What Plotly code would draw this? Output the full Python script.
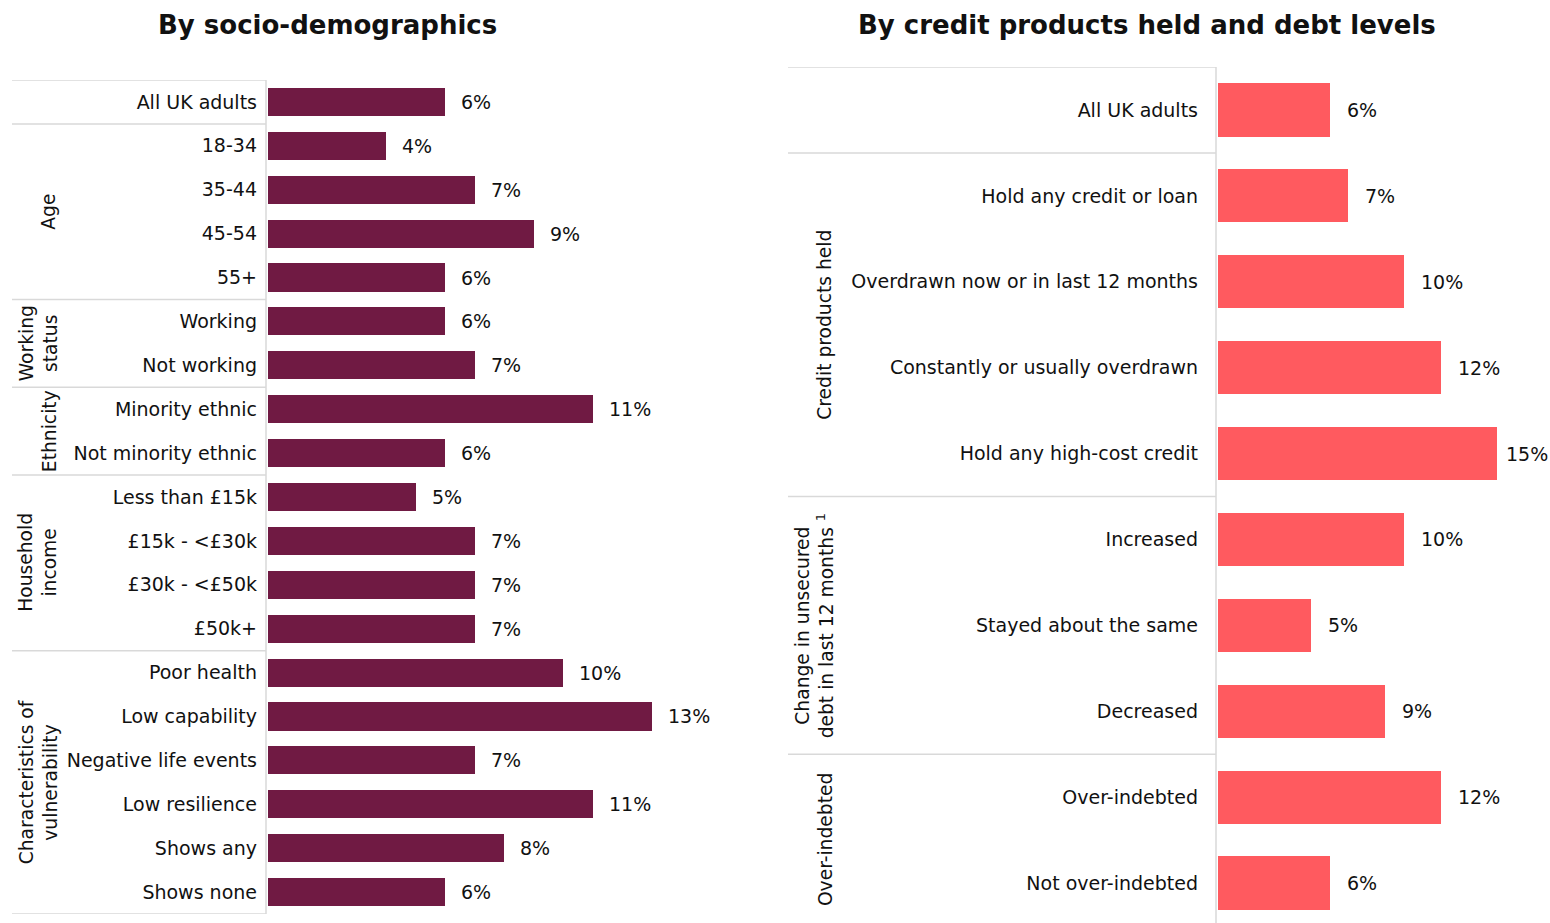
import plotly.graph_objects as go

W, H = 1550, 923

# ---------------- data ----------------
left_categories = ["All UK adults", "18-34", "35-44", "45-54", "55+", "Working", "Not working",
                   "Minority ethnic", "Not minority ethnic", "Less than £15k", "£15k - <£30k",
                   "£30k - <£50k", "£50k+", "Poor health", "Low capability", "Negative life events",
                   "Low resilience", "Shows any", "Shows none"]
left_values = [6, 4, 7, 9, 6, 6, 7, 11, 6, 5, 7, 7, 7, 10, 13, 7, 11, 8, 6]
left_groups = [("Age", 1, 4), ("Working<br>status", 5, 6), ("Ethnicity", 7, 8),
               ("Household<br>income", 9, 12), ("Characteristics of<br>vulnerability", 13, 18)]

right_categories = ["All UK adults", "Hold any credit or loan", "Overdrawn now or in last 12 months",
                    "Constantly or usually overdrawn", "Hold any high-cost credit", "Increased",
                    "Stayed about the same", "Decreased", "Over-indebted", "Not over-indebted"]
right_values = [6, 7, 10, 12, 15, 10, 5, 9, 12, 6]
right_groups = [("Credit products held", 1, 4),
                ("Change in unsecured<br>debt in last 12 months <sup>1</sup>", 5, 7),
                ("Over-indebted", 8, 9)]

LEFT_COLOR = "#701A43"
RIGHT_COLOR = "#FF5A5F"
LINE_COLOR = "#D9D9D9"
FONT = "DejaVu Sans, Verdana, sans-serif"
TXT = "#111111"
LBL = 19
GRP = 18.7

R_X0, R_RANGE = 1218, 17.85   # right x-axis start pixel and range


def px(x):
    return x / W


def py(y):
    return (H - y) / H


def esc(s):
    return s.replace("<", "&lt;")


fig = go.Figure()
fig.add_trace(go.Bar(x=left_values, y=list(range(len(left_categories))), orientation="h",
                     marker=dict(color=LEFT_COLOR, line=dict(width=0)), width=0.64,
                     xaxis="x", yaxis="y", hoverinfo="skip"))
fig.add_trace(go.Bar(x=right_values, y=list(range(len(right_categories))), orientation="h",
                     marker=dict(color=RIGHT_COLOR, line=dict(width=0)), width=0.62,
                     xaxis="x2", yaxis="y2", hoverinfo="skip"))

annotations = []
shapes = []

# value labels
for i, v in enumerate(left_values):
    annotations.append(dict(x=v, y=i, xref="x", yref="y", text=f"{v}%", showarrow=False,
                            xanchor="left", xshift=14, font=dict(size=LBL, color=TXT, family=FONT)))
r_scale = (W - R_X0) / R_RANGE
for i, v in enumerate(right_values):
    end_px = R_X0 + v * r_scale
    shift = min(15, W - 46 - end_px)   # keep the label inside the page
    annotations.append(dict(x=v, y=i, xref="x2", yref="y2", text=f"{v}%", showarrow=False,
                            xanchor="left", xshift=shift, font=dict(size=LBL, color=TXT, family=FONT)))

# group labels
for name, a, b in left_groups:
    two = "<br>" in name
    annotations.append(dict(x=px(38 if two else 49), y=(a + b) / 2, xref="paper", yref="y", text=name,
                            showarrow=False, textangle=-90, xanchor="center", yanchor="middle",
                            font=dict(size=GRP, color=TXT, family=FONT)))
for name, a, b in right_groups:
    two = "<br>" in name
    annotations.append(dict(x=px(814 if two else 825), y=(a + b) / 2, xref="paper", yref="y2", text=name,
                            showarrow=False, textangle=-90, xanchor="center", yanchor="middle",
                            font=dict(size=GRP, color=TXT, family=FONT)))

# titles
annotations.append(dict(x=px(327), y=py(25), xref="paper", yref="paper", text="<b>By socio-demographics</b>",
                        showarrow=False, xanchor="center", yanchor="middle",
                        font=dict(size=26, color=TXT, family=FONT)))
annotations.append(dict(x=px(1147), y=py(25), xref="paper", yref="paper",
                        text="<b>By credit products held and debt levels</b>",
                        showarrow=False, xanchor="center", yanchor="middle",
                        font=dict(size=26, color=TXT, family=FONT)))

# separator lines
for yb in [-0.5, 0.5, 4.5, 6.5, 8.5, 12.5, 18.5]:
    shapes.append(dict(type="line", xref="paper", yref="y", x0=px(12), x1=px(266), y0=yb, y1=yb,
                       line=dict(color=LINE_COLOR, width=1.5)))
for yb in [-0.5, 0.5, 4.5, 7.5]:
    shapes.append(dict(type="line", xref="paper", yref="y2", x0=px(788), x1=px(1216), y0=yb, y1=yb,
                       line=dict(color=LINE_COLOR, width=1.5)))
shapes.append(dict(type="line", xref="paper", yref="y", x0=px(266), x1=px(266), y0=-0.5, y1=18.5,
                   line=dict(color=LINE_COLOR, width=1.5)))
shapes.append(dict(type="line", xref="paper", yref="paper", x0=px(1216), x1=px(1216), y0=0, y1=py(67),
                   line=dict(color=LINE_COLOR, width=1.5)))

fig.update_layout(
    width=W, height=H, margin=dict(l=0, r=0, t=0, b=0),
    paper_bgcolor="white", plot_bgcolor="white", showlegend=False, bargap=0,
    font=dict(family=FONT, size=LBL, color=TXT),
    xaxis=dict(domain=[px(268), px(740)], range=[0, 16], visible=False, fixedrange=True),
    yaxis=dict(domain=[py(914), py(80)], range=[18.5, -0.5], tickmode="array",
               tickvals=list(range(len(left_categories))), ticktext=[esc(c) for c in left_categories],
               showgrid=False, zeroline=False, showline=False, ticks="", ticklabelstandoff=10,
               tickfont=dict(size=LBL, color=TXT, family=FONT), fixedrange=True),
    xaxis2=dict(domain=[px(R_X0), 1.0], range=[0, R_RANGE], visible=False, anchor="y2", fixedrange=True),
    yaxis2=dict(domain=[0, py(67)], range=[9.465, -0.5], anchor="x2", tickmode="array",
                tickvals=list(range(len(right_categories))), ticktext=[esc(c) for c in right_categories],
                showgrid=False, zeroline=False, showline=False, ticks="", ticklabelstandoff=19,
                tickfont=dict(size=LBL, color=TXT, family=FONT), fixedrange=True),
    annotations=annotations, shapes=shapes,
)

fig.write_html("out.html", config={"displayModeBar": False},
               post_script="document.body.style.margin='0';document.body.style.overflow='hidden';")
